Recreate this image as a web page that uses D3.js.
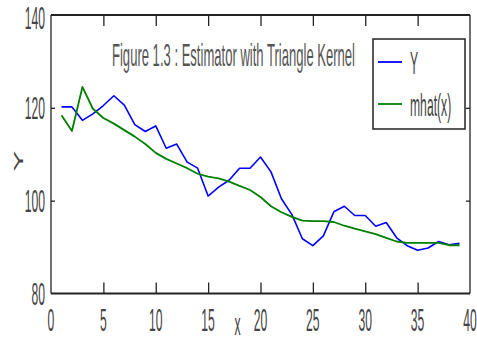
<!DOCTYPE html>
<html>
<head>
<meta charset="utf-8">
<script src="https://cdn.jsdelivr.net/npm/d3@7"></script>
<style>
  html, body { margin: 0; padding: 0; background: #fff; overflow: hidden; }
  text { font-family: "Liberation Sans", Arial, sans-serif; }
</style>
</head>
<body>
<svg id="chart" width="477" height="341"></svg>
<script>
// Observation index
const xValues = [1,2,3,4,5,6,7,8,9,10,11,12,13,14,15,16,17,18,19,20,
                 21,22,23,24,25,26,27,28,29,30,31,32,33,34,35,36,37,38,39];
// Observed response Y
const yObserved = [120.2,120.2,117.3,118.7,120.5,122.6,120.6,116.4,114.9,116.1,
                   111.3,112.2,108.3,107.0,101.0,102.9,104.4,107.0,107.0,109.4,
                   106.2,100.4,97.0,91.8,90.3,92.4,97.6,98.8,96.8,96.8,
                   94.5,95.3,92.0,90.3,89.3,89.8,91.2,90.5,90.8];
// Triangle-kernel estimate mhat(x)
const mhat = [118.4,115.0,124.5,119.8,117.8,116.6,115.2,113.8,112.2,110.3,
              109.0,108.0,107.0,105.8,105.2,104.8,104.1,103.2,102.3,100.8,
              98.8,97.5,96.5,95.7,95.6,95.6,95.4,94.6,94.0,93.4,
              92.8,92.0,91.2,90.9,90.9,90.9,90.9,90.4,90.4];

const xTicks = [0,5,10,15,20,25,30,35,40];
const yTicks = [80,100,120,140];
const titleText = "Figure 1.3 : Estimator with Triangle Kernel";
const seriesNames = ["Y", "mhat(x)"];
const seriesColors = ["#0000ff", "#008000"];
const xLabel = "x";
const yLabel = "Y";

const svg = d3.select("#chart");
const plotLeft = 51, plotRight = 470, plotTop = 15, plotBottom = 293.5;
const fontSize = 32, squeeze = 0.38, textColor = "#444";

const x = d3.scaleLinear().domain([0, 40]).range([plotLeft, plotRight]);
const y = d3.scaleLinear().domain([80, 140]).range([plotBottom, plotTop]);

// Series lines
const line = d3.line().x((d, i) => x(xValues[i])).y(d => y(d));
svg.append("path").datum(yObserved)
  .attr("fill", "none").attr("stroke", seriesColors[0])
  .attr("stroke-width", 1.6).attr("stroke-linejoin", "round")
  .attr("d", line);
svg.append("path").datum(mhat)
  .attr("fill", "none").attr("stroke", seriesColors[1])
  .attr("stroke-width", 1.8).attr("stroke-linejoin", "round")
  .attr("d", line);

// Axes box with inward ticks
const innerX = xTicks.slice(1, -1);
const innerY = yTicks.slice(1, -1);
const axisColor = "#222";
svg.append("g").attr("transform", `translate(0,${plotBottom})`)
  .call(d3.axisBottom(x).tickValues(innerX).tickSize(-11).tickFormat("").tickSizeOuter(0))
  .call(g => g.select(".domain").remove());
svg.append("g").attr("transform", `translate(0,${plotTop})`)
  .call(d3.axisTop(x).tickValues(innerX).tickSize(-11).tickFormat("").tickSizeOuter(0))
  .call(g => g.select(".domain").remove());
svg.append("g").attr("transform", `translate(${plotLeft},0)`)
  .call(d3.axisLeft(y).tickValues(innerY).tickSize(-4).tickFormat("").tickSizeOuter(0))
  .call(g => g.select(".domain").remove());
svg.append("g").attr("transform", `translate(${plotRight},0)`)
  .call(d3.axisRight(y).tickValues(innerY).tickSize(-4).tickFormat("").tickSizeOuter(0))
  .call(g => g.select(".domain").remove());
svg.selectAll(".tick line").attr("stroke", axisColor).attr("stroke-width", 1.3);

svg.append("line").attr("x1", plotLeft).attr("x2", plotRight).attr("y1", plotTop).attr("y2", plotTop)
  .attr("stroke", axisColor).attr("stroke-width", 2);
svg.append("line").attr("x1", plotLeft).attr("x2", plotRight).attr("y1", plotBottom).attr("y2", plotBottom)
  .attr("stroke", axisColor).attr("stroke-width", 2);
svg.append("line").attr("x1", plotLeft).attr("x2", plotLeft).attr("y1", plotTop).attr("y2", plotBottom)
  .attr("stroke", axisColor).attr("stroke-width", 1.3);
svg.append("line").attr("x1", plotRight).attr("x2", plotRight).attr("y1", plotTop).attr("y2", plotBottom)
  .attr("stroke", axisColor).attr("stroke-width", 1.3);

// Condensed text helper
function label(g, str, px, py, anchor, extra, sx) {
  return g.append("text")
    .attr("transform", `translate(${px},${py}) scale(${sx || squeeze},1)` + (extra || ""))
    .attr("text-anchor", anchor)
    .attr("font-size", fontSize)
    .attr("fill", textColor)
    .text(str);
}

// Tick labels (top label kept inside the canvas)
const minBaseline = fontSize * 0.905 + 0.5;
xTicks.forEach(v => label(svg, String(v), x(v), 331, "middle"));
yTicks.forEach(v => label(svg, String(v), plotLeft - 6, Math.max(y(v) + 11.5, minBaseline), "end"));

// Axis titles
label(svg, xLabel, 237.5, 335, "middle");
label(svg, yLabel, 23, 161, "middle", " rotate(-90)");

// Title, squeezed horizontally to a 243px run
const title = label(svg, titleText, 112, 66, "start").attr("fill", "#555");
const naturalWidth = title.node().getComputedTextLength();
title.attr("transform", `translate(112,66) scale(${243 / naturalWidth},1)`);

// Legend
const lg = svg.append("g");
lg.append("rect").attr("x", 373).attr("y", 39).attr("width", 92).attr("height", 90)
  .attr("fill", "#fff").attr("stroke", axisColor).attr("stroke-width", 1.5);
const legendRows = [62, 104];
seriesNames.forEach((name, i) => {
  lg.append("line").attr("x1", 378).attr("x2", 402)
    .attr("y1", legendRows[i]).attr("y2", legendRows[i])
    .attr("stroke", seriesColors[i]).attr("stroke-width", 1.8);
  label(lg, name, 410, legendRows[i] + 11.5, "start");
});
</script>
</body>
</html>
